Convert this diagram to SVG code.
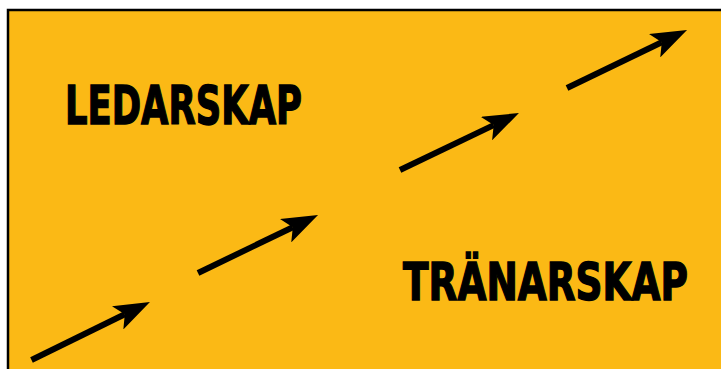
<svg xmlns="http://www.w3.org/2000/svg" width="721" height="369" viewBox="0 0 721 369">
  <style>
    .lbl { font-family: "Liberation Sans Narrow", "DejaVu Sans Condensed", "Liberation Sans", sans-serif; font-weight: bold; fill: #000; stroke: #000; stroke-width: 1.1; font-stretch: condensed; }
    .shaft { stroke: #000; stroke-width: 6; fill: none; marker-end: url(#head); }
  </style>
  <defs>
    <marker id="head" viewBox="0 0 36 26" refX="8" refY="13" markerWidth="36" markerHeight="26" markerUnits="userSpaceOnUse" orient="auto">
      <path d="M0,0 L36,13 L0,26 L8,13 Z" fill="#000"/>
    </marker>
  </defs>
  <rect x="0" y="0" width="721" height="369" fill="#fff"/>
  <rect id="bg" x="8" y="10" width="730" height="380" fill="#FBB915" stroke="#000" stroke-width="2.5"/>
  <g id="ledarskap">
    <text class="lbl" transform="translate(65,124) scale(1,1.25)" x="0" y="0" font-size="42.4" textLength="237" lengthAdjust="spacingAndGlyphs">LEDARSKAP</text>
  </g>
  <g id="tranarskap">
    <text class="lbl" transform="translate(403,300) scale(1,1.25)" x="0" y="0" font-size="40.8" textLength="285" lengthAdjust="spacingAndGlyphs">TRÄNARSKAP</text>
  </g>
  <g id="connectors">
    <path class="shaft" d="M31.5,360 L124.8,314.3"/>
    <path class="shaft" d="M198,273 L292.8,227.2"/>
    <path class="shaft" d="M400,170 L493.7,125.1"/>
    <path class="shaft" d="M567,88 L661.8,42.2"/>
  </g>
</svg>
